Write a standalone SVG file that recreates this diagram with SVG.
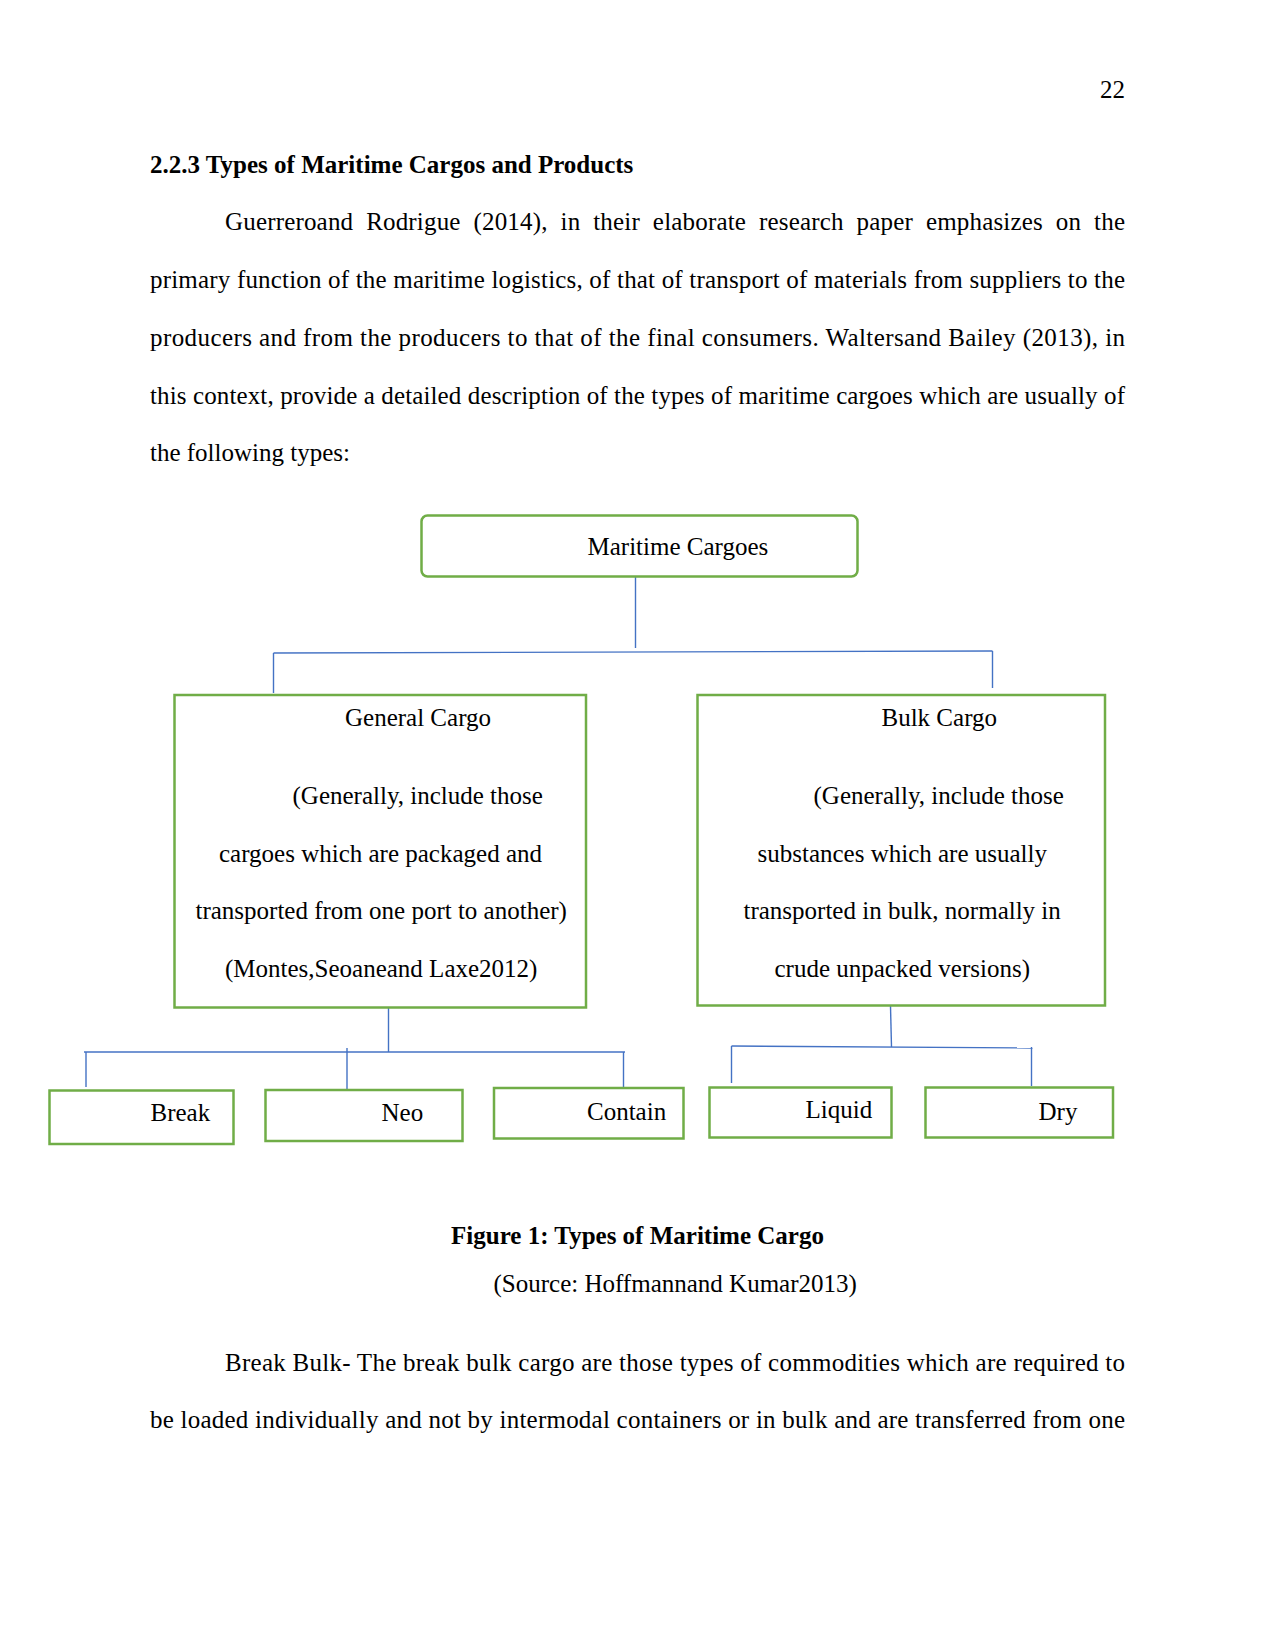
<svg xmlns="http://www.w3.org/2000/svg" width="1275" height="1650" viewBox="0 0 1275 1650">
<style>
text{font-family:"Liberation Serif","Times New Roman",serif;font-size:25px;fill:#000}
.b{font-weight:bold}
.box{fill:#fff;stroke:#70AD47;stroke-width:2.5}
.conn path{fill:none;stroke:#4472C4;stroke-width:1.4}
</style>
<rect width="1275" height="1650" fill="#fff"/>
<text x="1125" y="98" text-anchor="end">22</text>
<text class="b" x="150" y="173">2.2.3 Types of Maritime Cargos and Products</text>
<text x="225" y="230" word-spacing="6.5" textLength="900" lengthAdjust="spacing">Guerreroand Rodrigue (2014), in their elaborate research paper emphasizes on the</text>
<text x="150" y="288" textLength="975" lengthAdjust="spacing">primary function of the maritime logistics, of that of transport of materials from suppliers to the</text>
<text x="150" y="345.5" textLength="975" lengthAdjust="spacing">producers and from the producers to that of the final consumers. Waltersand Bailey (2013), in</text>
<text x="150" y="403.5" textLength="975" lengthAdjust="spacing">this context, provide a detailed description of the types of maritime cargoes which are usually of</text>
<text x="150" y="460.5">the following types:</text>

<g class="conn" id="connectors">
<path d="M635.5 577 V648"/>
<path d="M273.5 653 L992.5 651"/>
<path d="M273.5 653 V693"/>
<path d="M992.5 651 V688"/>
<path d="M388.5 1008 V1052"/>
<path d="M84 1052 H625"/>
<path d="M86 1052 V1087"/>
<path d="M347 1048 V1090"/>
<path d="M623.5 1052 V1088"/>
<path d="M890.5 1006 L891.5 1047"/>
<path d="M731.5 1046 L1032.5 1048"/>
<path d="M731.5 1046 V1083"/>
<path d="M1031.5 1047 V1086"/>
</g>

<g id="maritime">
<rect class="box" x="421.5" y="515.5" width="436" height="61" rx="6"/>
<text x="587.5" y="555">Maritime Cargoes</text>
</g>
<g id="general">
<rect class="box" x="174.5" y="695" width="411.5" height="312.5"/>
<text x="345" y="726">General Cargo</text>
<text x="292.5" y="804">(Generally, include those</text>
<text x="219" y="861.5">cargoes which are packaged and</text>
<text x="195.5" y="918.5">transported from one port to another)</text>
<text x="225" y="976.5">(Montes,Seoaneand Laxe2012)</text>
</g>
<g id="bulk">
<rect class="box" x="697.5" y="695" width="407.5" height="310.5"/>
<text x="881.5" y="726">Bulk Cargo</text>
<text x="813.5" y="804">(Generally, include those</text>
<text x="757.5" y="861.5">substances which are usually</text>
<text x="743.5" y="918.5">transported in bulk, normally in</text>
<text x="774.5" y="976.5">crude unpacked versions)</text>
</g>
<g id="break">
<rect class="box" x="49.5" y="1090.5" width="184" height="53.5"/>
<text x="150.5" y="1120.5">Break</text>
</g>
<g id="neo">
<rect class="box" x="265.5" y="1090" width="197" height="51"/>
<text x="381.5" y="1120.5">Neo</text>
</g>
<g id="contain">
<rect class="box" x="494" y="1088" width="189.5" height="50.5"/>
<text x="587" y="1119.5">Contain</text>
</g>
<g id="liquid">
<rect class="box" x="709.5" y="1087.5" width="182" height="50"/>
<text x="805.5" y="1117.5">Liquid</text>
</g>
<g id="dry">
<rect class="box" x="925.5" y="1087.5" width="187.5" height="50"/>
<text x="1038.5" y="1120">Dry</text>
</g>

<text class="b" x="637.5" y="1243.5" text-anchor="middle">Figure 1: Types of Maritime Cargo</text>
<text x="493.5" y="1291.5">(Source: Hoffmannand Kumar2013)</text>
<text x="225" y="1370.5" textLength="900" lengthAdjust="spacing">Break Bulk- The break bulk cargo are those types of commodities which are required to</text>
<text x="150" y="1427.5" textLength="975" lengthAdjust="spacing">be loaded individually and not by intermodal containers or in bulk and are transferred from one</text>
</svg>
